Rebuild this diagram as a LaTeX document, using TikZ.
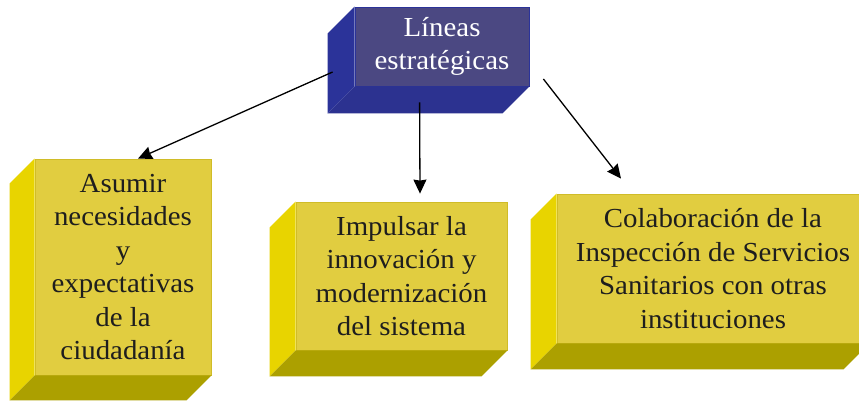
\documentclass[tikz,border=0pt]{standalone}
\usepackage{fontspec}
\setmainfont[FakeStretch=1.05]{Liberation Serif}
\usetikzlibrary{calc,arrows.meta}
\definecolor{topfront}{RGB}{75,72,130}
\definecolor{topside}{RGB}{43,51,153}
\definecolor{topbottom}{RGB}{44,50,144}
\definecolor{yfront}{RGB}{225,205,64}
\definecolor{yside}{RGB}{232,212,0}
\definecolor{ybottom}{RGB}{172,160,0}
\definecolor{yborder}{RGB}{208,188,40}
\definecolor{ytext}{RGB}{30,30,30}
\tikzset{
  face/.style={inner sep=0pt, align=center, font=\fontsize{27.5}{33.5}\selectfont},
  topbox/.style={face, fill=topfront, draw=topside, line width=0.8pt, text=white},
  ybox/.style={face, fill=yfront, draw=yborder, line width=0.8pt, text=ytext},
  link/.style={draw=black, line width=1.3pt, -{Stealth[length=14pt,width=13pt,inset=1pt]}},
}
\newcommand\bevelbox[4]{%
  \fill[#3] (#1.north west) -- ++(-#2,#2) -- ($(#1.south west)+(-#2,#2)$) -- (#1.south west) -- cycle;
  \fill[#4] (#1.south west) -- (#1.south east) -- ++(-#2,#2) -- ($(#1.south west)+(-#2,#2)$) -- cycle;
}
\begin{document}
\begin{tikzpicture}[x=1pt,y=-1pt]
\useasboundingbox (0,0) rectangle (859,401);
\fill[white] (0,0) rectangle (859,401);

\node[topbox, minimum width=174pt, minimum height=79pt] (top) at (442,46.5) {Líneas\\estratégicas};
\bevelbox{top}{27}{topside}{topbottom}

\node[ybox, minimum width=176pt, minimum height=216pt] (b1) at (123,267)
  {Asumir\\necesidades\\y\\expectativas\\de la\\ciudadanía};
\bevelbox{b1}{25}{yside}{ybottom}

\node[ybox, minimum width=211pt, minimum height=148pt] (b2) at (401.5,276)
  {Impulsar la\\innovación y\\modernización\\del sistema};
\bevelbox{b2}{26}{yside}{ybottom}

\node[ybox, minimum width=312pt, minimum height=149pt] (b3) at (713,268.5)
  {Colaboración de la\\Inspección de Servicios\\Sanitarios con otras\\instituciones};
\bevelbox{b3}{26}{yside}{ybottom}

\coordinate (s1) at ($(top.west)+(-22,25.5)$);
\coordinate (e1) at ($(b1.north)+(15,0)$);
\coordinate (s2) at ($(top.south west)+(65,16)$);
\coordinate (e2) at ($(b2.north)+(18.5,-8)$);
\coordinate (s3) at ($(top.east)+(14,32.5)$);
\coordinate (e3) at ($(b3.north)+(-92,-15)$);
\draw[link] (s1) -- (e1);
\draw[link] (s2) -- (e2);
\draw[link] (s3) -- (e3);
\end{tikzpicture}
\end{document}
